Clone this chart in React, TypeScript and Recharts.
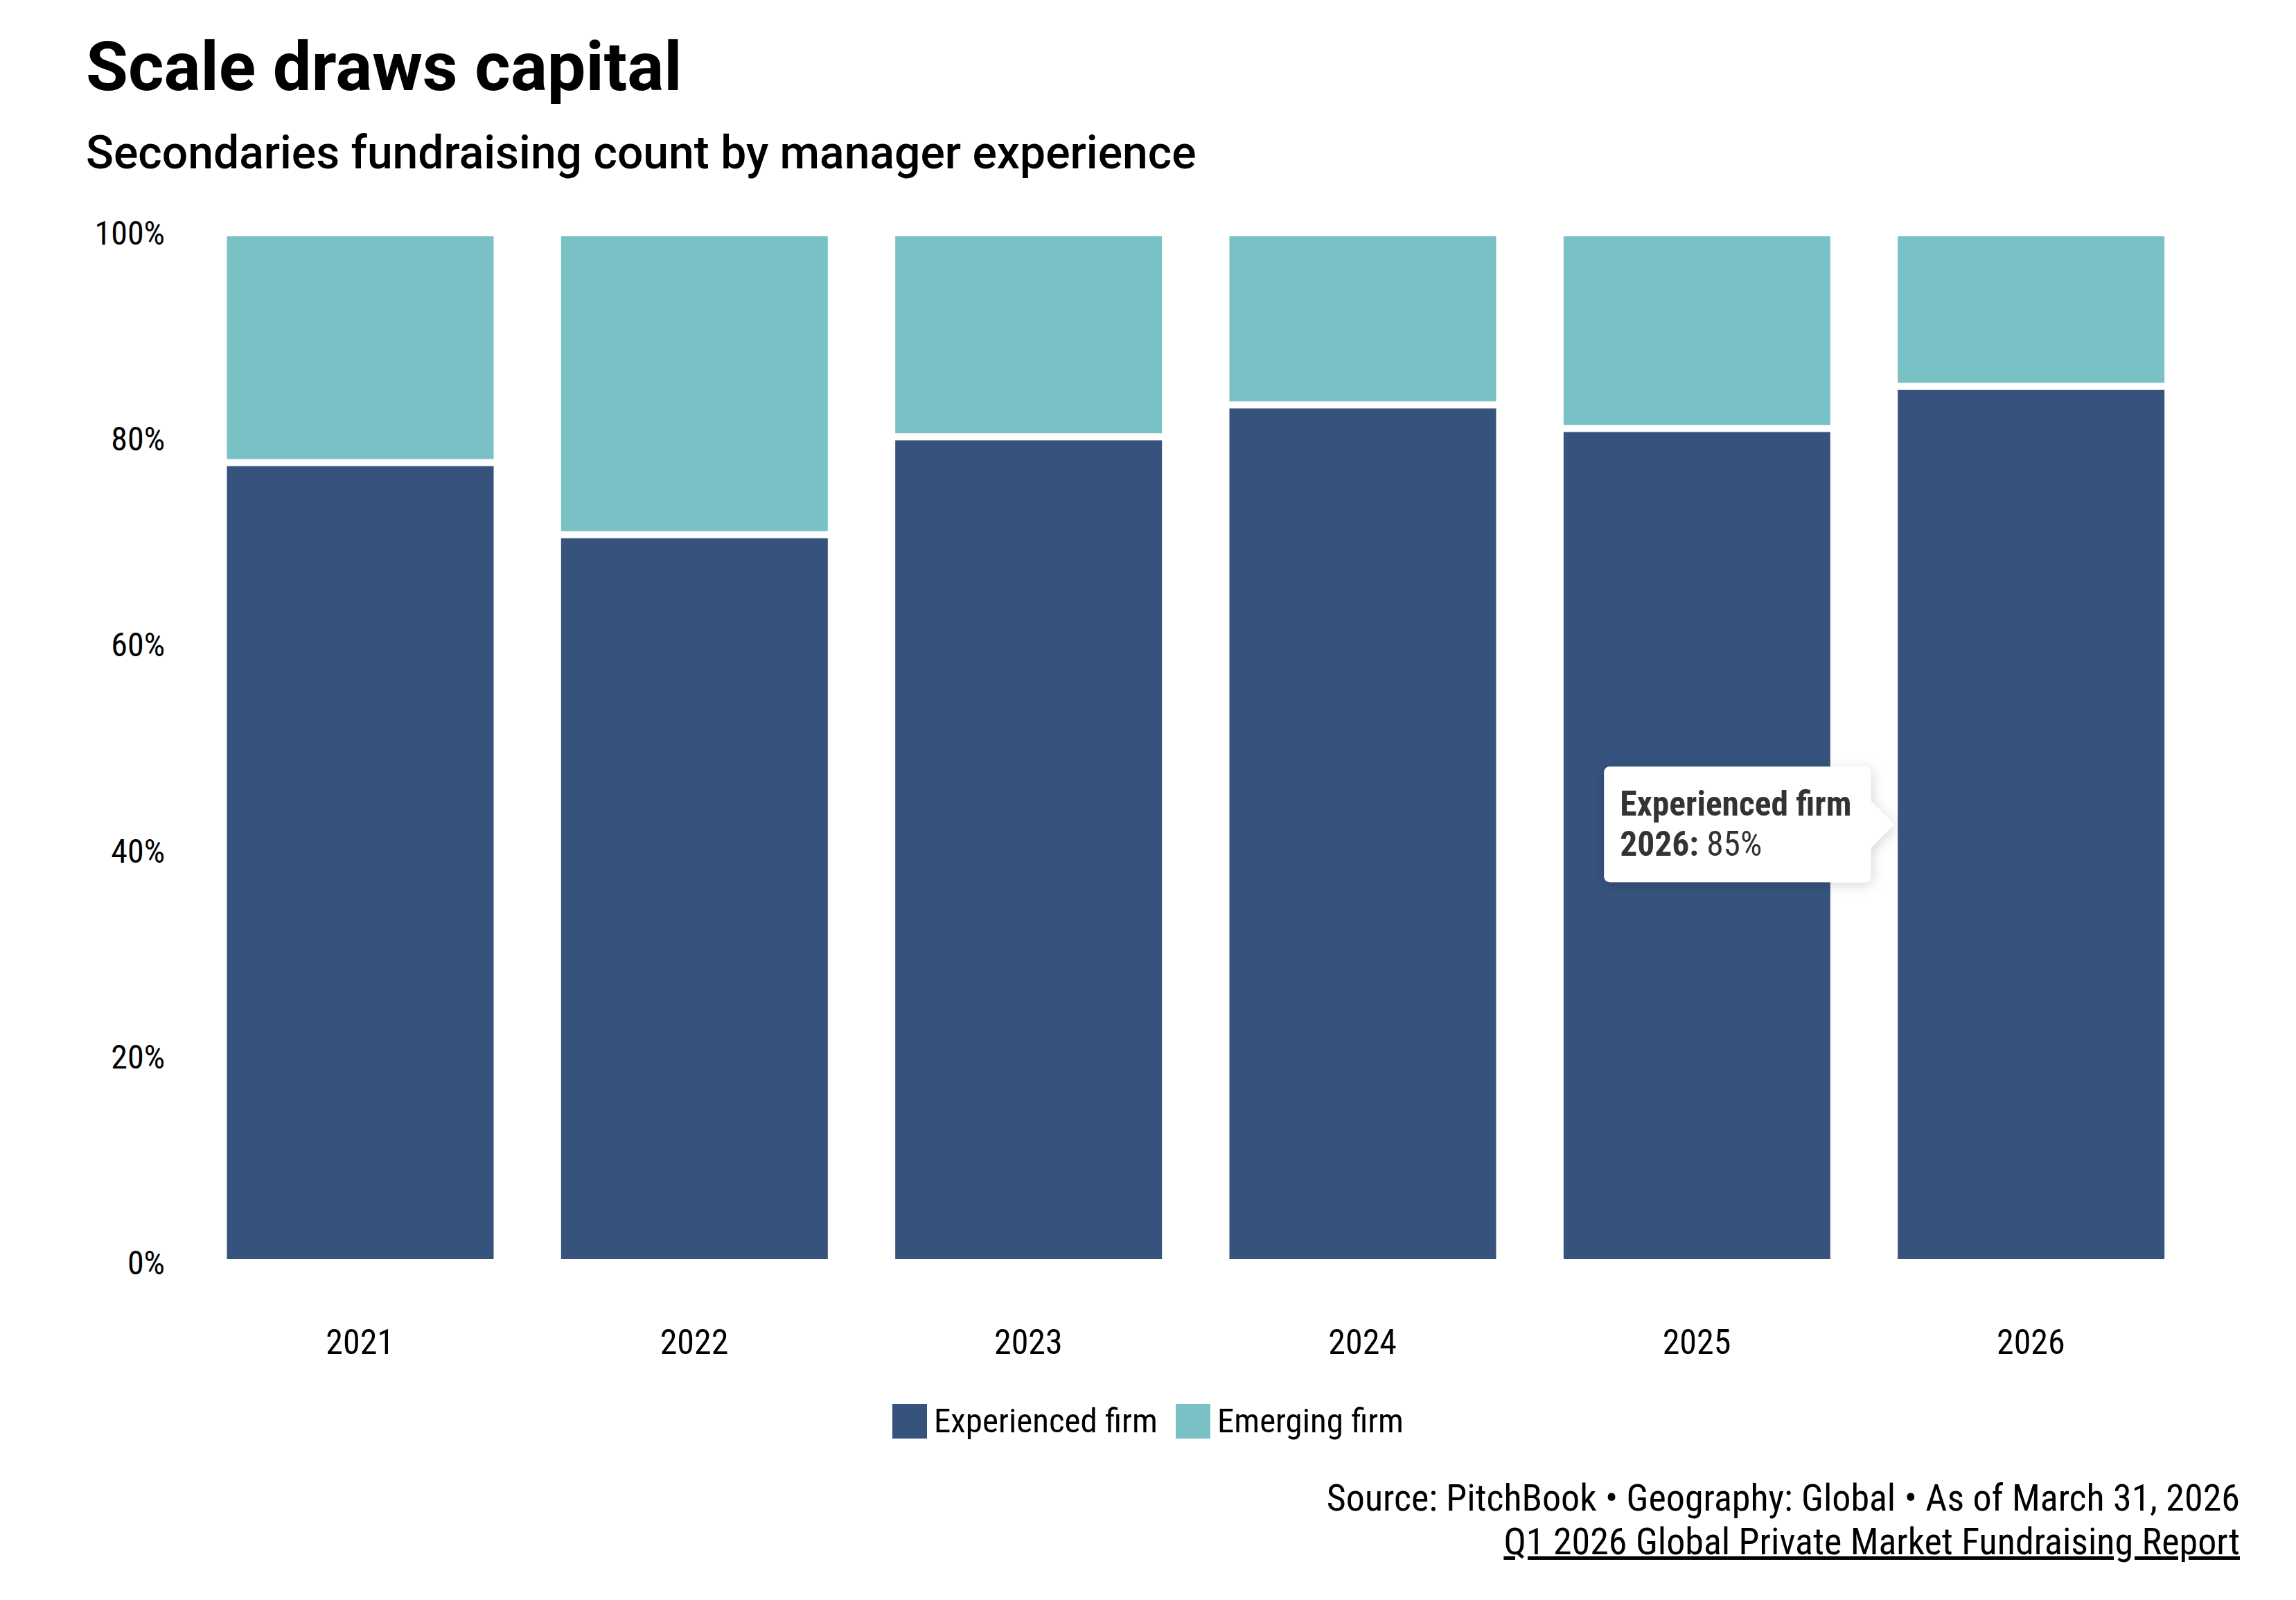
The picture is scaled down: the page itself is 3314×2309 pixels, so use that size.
import { Bar, BarChart, LabelList, Legend, XAxis, YAxis } from "recharts";

const YEARS = ["2021", "2022", "2023", "2024", "2025", "2026"];
const EXPERIENCED = [77.7, 70.7, 80.2, 83.3, 81.0, 85.1];
const EMERGING = [22.3, 29.3, 19.8, 16.7, 19.0, 14.9];
const Y_TICKS = [0, 20, 40, 60, 80, 100];
const SERIES = [
  { key: "experienced", name: "Experienced firm", color: "#36537d" },
  { key: "emerging", name: "Emerging firm", color: "#7ac1c6" },
];
const TIP_INDEX = 5;

const COND = "'Roboto Condensed', 'Liberation Sans Narrow', 'DejaVu Sans Condensed', 'Arial Narrow', Roboto, sans-serif";

const data = YEARS.map((year, i) => ({ year, experienced: EXPERIENCED[i], emerging: EMERGING[i] }));

function renderTip(props: any) {
  if (props.index !== TIP_INDEX) return null;
  const vb = props.viewBox ?? props;
  const tipX = vb.x;
  const cy = vb.y + vb.height / 2;
  const w = 385;
  const h = 167;
  const right = tipX - 34;
  const left = right - w;
  const top = cy - h / 2;
  return (
    <g>
      <defs>
        <filter id="tip-shadow" x="-20%" y="-30%" width="140%" height="160%">
          <feDropShadow dx="2" dy="4" stdDeviation="9" floodColor="#000" floodOpacity="0.16" />
        </filter>
      </defs>
      <g filter="url(#tip-shadow)">
        <rect x={left} y={top} width={w} height={h} rx={8} fill="#fff" />
        <polygon points={`${right - 2},${cy - 36} ${tipX},${cy} ${right - 2},${cy + 36}`} fill="#fff" />
      </g>
      <text x={left + 23} y={cy - 13} fontFamily={COND} fontSize={49.5} fontWeight={700} fill="#333">
        {SERIES[0].name}
      </text>
      <text x={left + 23} y={cy + 45} fontFamily={COND} fontSize={49.5} fill="#333">
        <tspan fontWeight={700}>{YEARS[TIP_INDEX]}:</tspan>
        <tspan> {Math.round(Number(props.value))}%</tspan>
      </text>
    </g>
  );
}

function LegendContent() {
  return (
    <div style={{ display: "flex", justifyContent: "center", alignItems: "center", gap: 26, fontFamily: COND, fontSize: 49, color: "#000" }}>
      {SERIES.map(s => (
        <div key={s.key} style={{ display: "flex", alignItems: "center", gap: 10 }}>
          <span style={{ display: "inline-block", width: 50, height: 50, background: s.color }} />
          <span style={{ lineHeight: "50px" }}>{s.name}</span>
        </div>
      ))}
    </div>
  );
}

export default function App() {
  return (
    <div style={{ position: "absolute", left: 0, top: 0, width: 3314, height: 2309, background: "#fff", overflow: "hidden" }}>
      <div style={{ position: "absolute", left: 124, top: 47, fontFamily: "Roboto, sans-serif", fontWeight: 700, fontSize: 99, lineHeight: 1, color: "#000", whiteSpace: "nowrap" }}>
        Scale draws capital
      </div>
      <div style={{ position: "absolute", left: 124, top: 188, fontFamily: "Roboto, sans-serif", fontWeight: 500, fontSize: 66, lineHeight: 1, color: "#000", whiteSpace: "nowrap" }}>
        Secondaries fundraising count by manager experience
      </div>
      <div style={{ position: "absolute", left: 0, top: 0 }}>
        <BarChart width={3314} height={2309} data={data} margin={{ top: 336, right: 141.5, bottom: 457, left: 178.5 }}>
          <XAxis dataKey="year" height={30} axisLine={false} tickLine={false} tickSize={0} tickMargin={96} tick={{ fill: "#000", fontSize: 50, fontFamily: COND }} />
          <YAxis
            width={100}
            domain={[0, 100]}
            ticks={Y_TICKS}
            tickFormatter={v => `${v}%`}
            axisLine={false}
            tickLine={false}
            tickSize={0}
            tickMargin={40.5}
            tick={{ fill: "#000", fontSize: 48, fontFamily: COND }}
          />
          <Legend verticalAlign="middle" wrapperStyle={{ top: 2026, left: 0, width: 3314 }} content={() => <LegendContent />} />
          {SERIES.map(s => (
            <Bar key={s.key} dataKey={s.key} name={s.name} stackId="a" fill={s.color} stroke="#fff" strokeWidth={10} barSize={395} isAnimationActive={false}>
              {s.key === "experienced" && <LabelList dataKey="experienced" content={renderTip} />}
            </Bar>
          ))}
        </BarChart>
      </div>
      <div style={{ position: "absolute", right: 81, top: 2134.5, fontFamily: COND, fontSize: 54, lineHeight: 1, color: "#000", textAlign: "right", whiteSpace: "nowrap" }}>
        Source: PitchBook • Geography: Global • As of March 31, 2026
      </div>
      <div style={{ position: "absolute", right: 81, top: 2197.5, fontFamily: COND, fontSize: 54, lineHeight: 1, color: "#000", textAlign: "right", whiteSpace: "nowrap", textDecoration: "underline" }}>
        Q1 2026 Global Private Market Fundraising Report
      </div>
    </div>
  );
}
